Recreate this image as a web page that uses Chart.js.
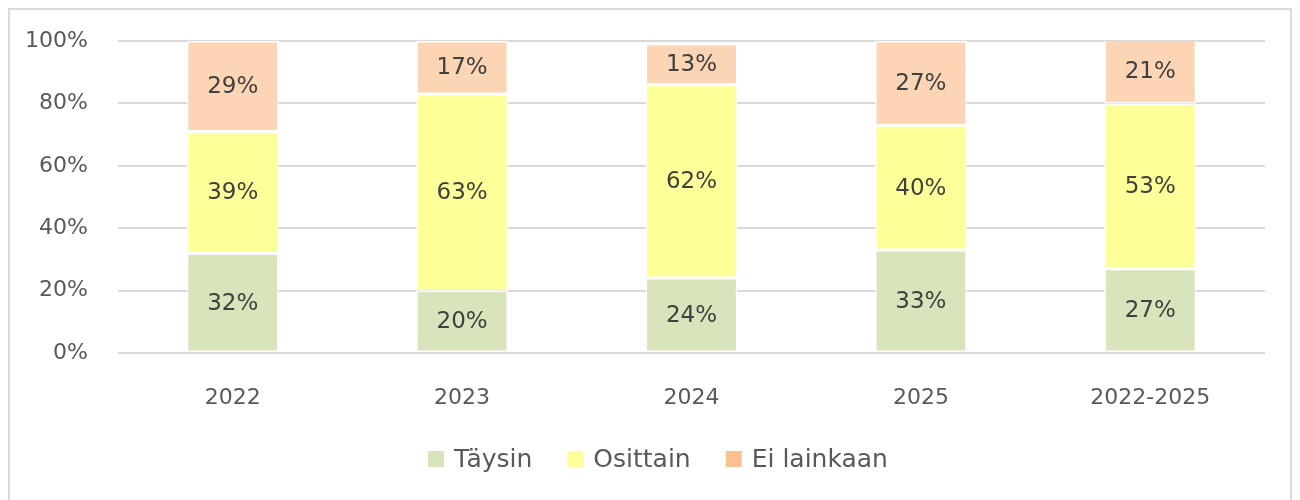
<!DOCTYPE html>
<html>
<head>
<meta charset="utf-8">
<script src="https://cdn.jsdelivr.net/npm/chart.js@4"></script>
<style>
  body { margin: 0; background: #ffffff; }
  #frame {
    position: absolute; left: 8px; top: 8px;
    width: 1284px; height: 520px;
    border: 2px solid #d9d9d9; box-sizing: border-box;
  }
  #box { position: relative; width: 1280px; height: 490px; }
</style>
</head>
<body>
<div id="frame"><div id="box"><canvas id="chart"></canvas></div></div>
<script>
// Vuodet ja osuudet (%)
const categories = ['2022', '2023', '2024', '2025', '2022-2025'];
const taysin = [32, 20, 24, 33, 27];
const osittain = [39, 63, 62, 40, 53];
const eiLainkaan = [29, 17, 13, 27, 21];
const yTicks = [0, 20, 40, 60, 80, 100];

const FONT = "'DejaVu Sans', sans-serif";
const legendColors = ['#d8e4bc', '#ffff99', '#fac090'];

// Arvot palkkien keskelle
const barLabels = {
    id: 'barLabels',
    afterDatasetsDraw(chart) {
        const ctx = chart.ctx;
        ctx.save();
        ctx.font = '23px ' + FONT;
        ctx.fillStyle = '#404040';
        ctx.textAlign = 'center';
        ctx.textBaseline = 'middle';
        chart.data.datasets.forEach((ds, i) => {
            chart.getDatasetMeta(i).data.forEach((bar, j) => {
                const y = (bar.y + bar.base) / 2;
                ctx.fillText(ds.data[j] + '%', bar.x, y + 1);
            });
        });
        ctx.restore();
    }
};

// Selite alas keskelle (oma piirto, jotta välit saa kohdalleen)
const bottomLegend = {
    id: 'bottomLegend',
    afterDraw(chart) {
        const ctx = chart.ctx;
        const box = 16, gap = 10, spacing = 35;
        ctx.save();
        ctx.font = '25px ' + FONT;
        ctx.textBaseline = 'middle';
        ctx.textAlign = 'left';
        const items = chart.data.datasets.map((ds, i) => ({
            text: ds.label,
            color: legendColors[i],
            w: box + gap + ctx.measureText(ds.label).width
        }));
        const total = items.reduce((s, it) => s + it.w, 0) + spacing * (items.length - 1);
        let x = chart.width / 2 + 8 - total / 2;
        const y = chart.chartArea.bottom + 106;
        items.forEach(it => {
            ctx.fillStyle = it.color;
            ctx.fillRect(x, y - box / 2, box, box);
            ctx.fillStyle = '#595959';
            ctx.fillText(it.text, x + box + gap, y + 1);
            x += it.w + spacing;
        });
        ctx.restore();
    }
};

new Chart(document.getElementById('chart'), {
    type: 'bar',
    data: {
        labels: categories,
        datasets: [
            { label: 'Täysin', data: taysin, backgroundColor: '#d8e4bc' },
            { label: 'Osittain', data: osittain, backgroundColor: '#ffff99' },
            { label: 'Ei lainkaan', data: eiLainkaan, backgroundColor: '#fcd5b4' }
        ]
    },
    options: {
        responsive: true,
        maintainAspectRatio: false,
        animation: false,
        layout: { padding: { top: 31, right: 25, left: 0, bottom: 87 } },
        datasets: {
            bar: {
                categoryPercentage: 1,
                barPercentage: 0.4,
                borderColor: '#ffffff',
                borderWidth: 1.5,
                borderSkipped: false
            }
        },
        plugins: {
            tooltip: { enabled: false },
            legend: { display: false }
        },
        scales: {
            x: {
                stacked: true,
                afterFit: function(scale) {
                    scale.height = 60;
                    scale.paddingLeft = 0;
                    scale.paddingRight = 0;
                },
                grid: { display: false, drawTicks: false },
                border: { display: false },
                ticks: { color: '#595959', padding: 32, maxRotation: 0, font: { family: FONT, size: 22 } }
            },
            y: {
                stacked: true,
                min: 0,
                max: 100,
                afterFit: function(scale) {
                    scale.width = 108;
                    scale.paddingTop = 0;
                    scale.paddingBottom = 0;
                },
                afterBuildTicks: function(scale) {
                    scale.ticks = yTicks.map(v => ({ value: v }));
                },
                grid: { color: '#d9d9d9', lineWidth: 2, drawTicks: false },
                border: { display: false },
                ticks: {
                    color: '#595959',
                    padding: 30,
                    font: { family: FONT, size: 22 },
                    callback: v => v + '%'
                }
            }
        }
    },
    plugins: [barLabels, bottomLegend]
});
</script>
</body>
</html>
